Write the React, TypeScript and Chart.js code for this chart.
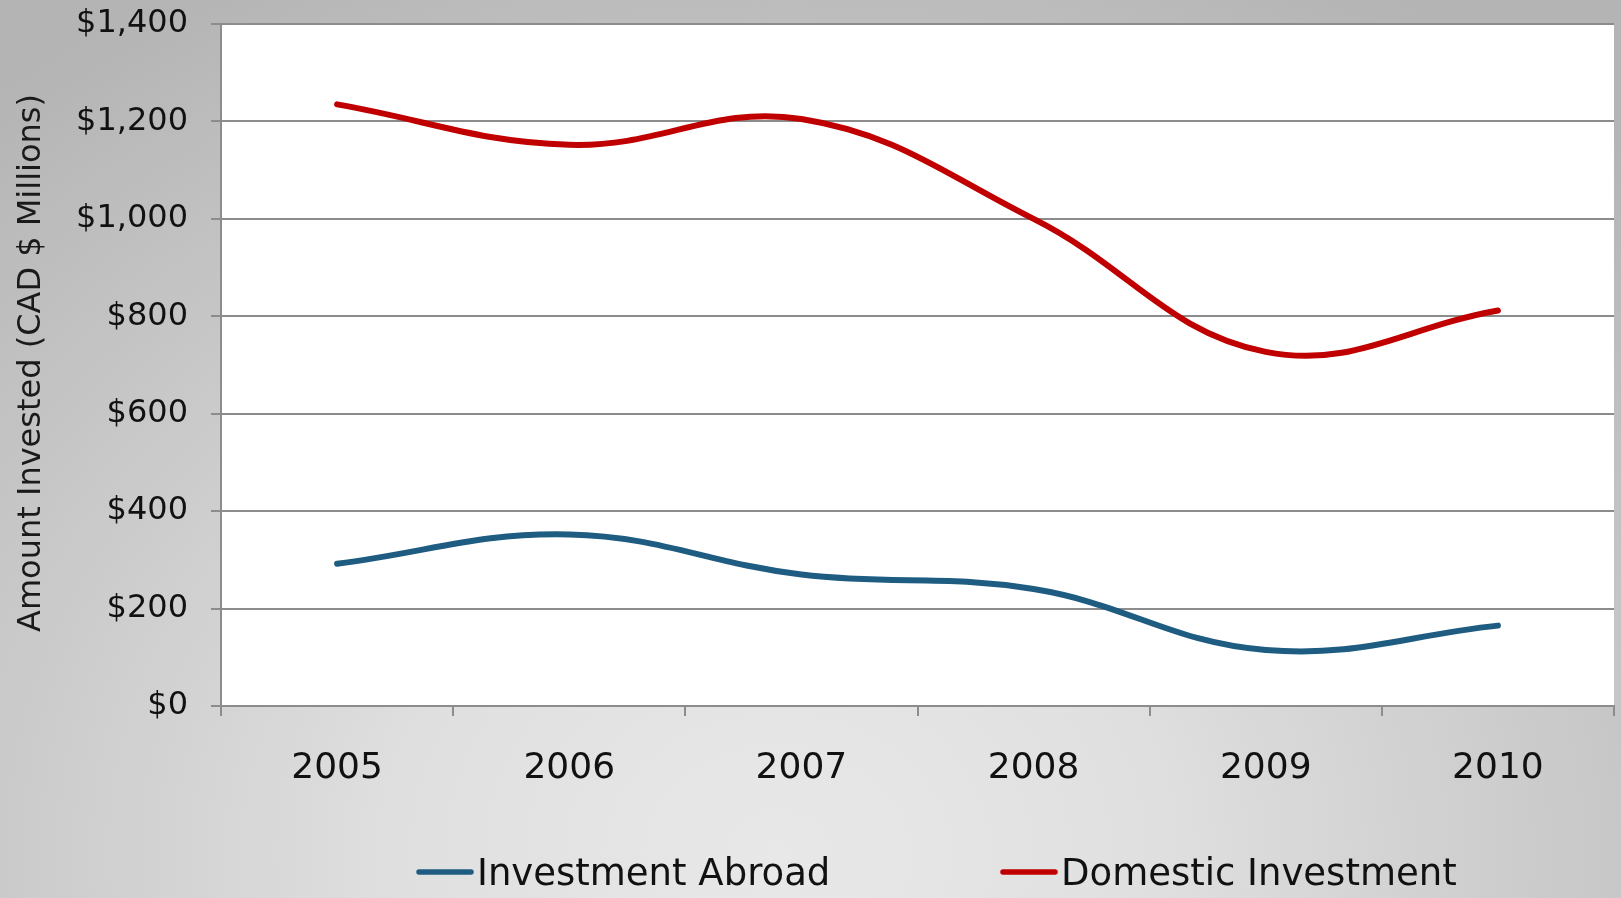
import React, { useEffect, useRef } from 'react';
import { Chart, registerables } from 'chart.js';

Chart.register(...registerables);

// ---- Data ----
const years: string[] = ['2005', '2006', '2007', '2008', '2009', '2010'];
const investmentAbroad: number[] = [292, 352, 270, 240, 115, 165];
const domesticInvestment: number[] = [1235, 1152, 1205, 1000, 727, 812];
const seriesNames: string[] = ['Investment Abroad', 'Domestic Investment'];
const yAxisTitle = 'Amount Invested (CAD $ Millions)';
const yMin = 0;
const yMax = 1400;
const yStep = 200;

// ---- Styles ----
const COLORS = ['#1f5c82', '#c00000'];
const GRID = '#8c8c8c';
const TEXT = '#111111';
const LEGEND_X = [417, 1001];
const LEGEND_Y = 872;

const plotBackground = {
  id: 'plotBackground',
  beforeDraw(chart: any) {
    const { ctx, chartArea } = chart;
    ctx.save();
    ctx.fillStyle = '#ffffff';
    ctx.fillRect(chartArea.left, chartArea.top, chartArea.right - chartArea.left, chartArea.bottom - chartArea.top);
    ctx.restore();
  },
};

const yTitlePlugin = {
  id: 'yTitlePlugin',
  afterDraw(chart: any) {
    const { ctx } = chart;
    ctx.save();
    ctx.translate(40, 363);
    ctx.rotate(-Math.PI / 2);
    ctx.font = '32px "DejaVu Sans", Verdana, sans-serif';
    ctx.fillStyle = '#1a1a1a';
    ctx.textAlign = 'center';
    ctx.textBaseline = 'alphabetic';
    ctx.fillText(yAxisTitle, 0, 0);
    ctx.restore();
  },
};

const lineLegendPlugin = {
  id: 'lineLegendPlugin',
  afterDraw(chart: any) {
    const { ctx } = chart;
    chart.data.datasets.forEach((ds: any, i: number) => {
      const x = LEGEND_X[i];
      ctx.save();
      ctx.strokeStyle = ds.borderColor;
      ctx.lineWidth = 5.5;
      ctx.lineCap = 'round';
      ctx.beginPath();
      ctx.moveTo(x + 2, LEGEND_Y);
      ctx.lineTo(x + 54, LEGEND_Y);
      ctx.stroke();
      ctx.font = '37px "DejaVu Sans", Verdana, sans-serif';
      ctx.fillStyle = TEXT;
      ctx.textAlign = 'left';
      ctx.textBaseline = 'alphabetic';
      ctx.fillText(ds.label, x + 60, 885);
      ctx.restore();
    });
  },
};

export default function App() {
  const canvasRef = useRef<HTMLCanvasElement | null>(null);

  useEffect(() => {
    document.body.style.margin = '0';
    const canvas = canvasRef.current;
    if (!canvas) return;
    const chart = new Chart(canvas, {
      type: 'line',
      data: {
        labels: years,
        datasets: [
          {
            label: seriesNames[0],
            data: investmentAbroad,
            borderColor: COLORS[0],
            backgroundColor: COLORS[0],
            borderWidth: 6,
            borderCapStyle: 'round',
            borderJoinStyle: 'round',
            pointRadius: 0,
            tension: 0.4,
            fill: false,
          },
          {
            label: seriesNames[1],
            data: domesticInvestment,
            borderColor: COLORS[1],
            backgroundColor: COLORS[1],
            borderWidth: 6,
            borderCapStyle: 'round',
            borderJoinStyle: 'round',
            pointRadius: 0,
            tension: 0.4,
            fill: false,
          },
        ],
      },
      options: {
        responsive: false,
        animation: false,
        layout: { padding: { left: 0, right: 7, top: 24, bottom: 0 } },
        plugins: {
          legend: { display: false },
          tooltip: { enabled: false },
          title: { display: false },
        },
        scales: {
          x: {
            type: 'category',
            offset: true,
            grid: {
              offset: true,
              drawOnChartArea: false,
              drawTicks: true,
              tickLength: 10,
              color: GRID,
              lineWidth: 2,
            },
            border: { display: true, color: GRID, width: 2 },
            ticks: {
              color: TEXT,
              font: { family: '"DejaVu Sans", Verdana, sans-serif', size: 36 },
              padding: 31,
              maxRotation: 0,
            },
            afterFit(scale: any) {
              scale.height = 192;
              scale.paddingLeft = 0;
              scale.paddingRight = 0;
            },
          },
          y: {
            min: yMin,
            max: yMax,
            ticks: {
              stepSize: yStep,
              color: TEXT,
              font: { family: '"DejaVu Sans", Verdana, sans-serif', size: 32 },
              padding: 23,
              callback: (v: any) => '$' + Number(v).toLocaleString('en-US'),
            },
            grid: {
              color: GRID,
              lineWidth: 2,
              tickLength: 10,
              drawTicks: true,
            },
            border: { display: true, color: GRID, width: 2 },
            afterFit(scale: any) {
              scale.width = 221;
              scale.paddingTop = 0;
              scale.paddingBottom = 0;
            },
          },
        },
      },
      plugins: [plotBackground, yTitlePlugin, lineLegendPlugin],
    } as any);
    return () => chart.destroy();
  }, []);

  return (
    <div
      style={{
        width: 1621,
        height: 898,
        position: 'relative',
        overflow: 'hidden',
        background:
          'radial-gradient(ellipse 75% 110% at 48% 95%, #e8e8e8 0%, #e0e0e0 30%, #cdcdcd 60%, #b4b4b4 100%)',
      }}
    >
      <canvas ref={canvasRef} width={1621} height={898} style={{ display: 'block' }} />
    </div>
  );
}
